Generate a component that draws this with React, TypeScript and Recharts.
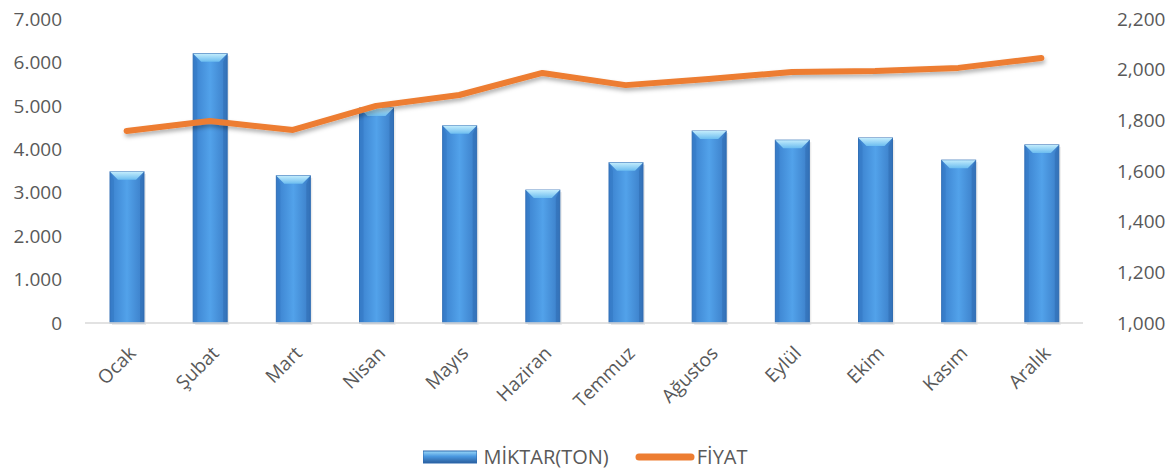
import React from 'react';
import { ComposedChart, Bar, Line, XAxis, YAxis } from 'recharts';

const months = ['Ocak', 'Şubat', 'Mart', 'Nisan', 'Mayıs', 'Haziran', 'Temmuz', 'Ağustos', 'Eylül', 'Ekim', 'Kasım', 'Aralık'];
const miktar = [3480, 6200, 3390, 4950, 4540, 3060, 3690, 4420, 4210, 4260, 3750, 4100];
const fiyat = [1758, 1797, 1762, 1857, 1900, 1987, 1939, 1963, 1991, 1995, 2007, 2046];
const leftTicks = [0, 1000, 2000, 3000, 4000, 5000, 6000, 7000];
const rightTicks = [1000, 1200, 1400, 1600, 1800, 2000, 2200];

const data = months.map((m, i) => ({ name: m, miktar: miktar[i], fiyat: fiyat[i] }));

const FONT = '"Open Sans", sans-serif';
const GRAY = '#595959';

const fmtLeft = (v: number) => (v === 0 ? '0' : v.toLocaleString('de-DE'));
const fmtRight = (v: number) => v.toLocaleString('en-US');

function BevelBar(props: any) {
  const { x, y, width, height, index } = props;
  if (!height || height <= 0) return null;
  const b = 8;
  const bodyId = `bb-${index}`;
  const topId = `bt-${index}`;
  return (
    <g>
      <defs>
        <linearGradient id={bodyId} x1="0" y1="0" x2="1" y2="0">
          <stop offset="0" stopColor="#3a80cd" />
          <stop offset="0.5" stopColor="#52a2ea" />
          <stop offset="1" stopColor="#3a7cc6" />
        </linearGradient>
        <linearGradient id={topId} x1="0" y1="0" x2="0" y2="1">
          <stop offset="0" stopColor="#c2ecfc" />
          <stop offset="1" stopColor="#6cbdf0" />
        </linearGradient>
      </defs>
      <rect x={x + 2} y={y + 2} width={width} height={height} fill="#000" opacity={0.08} />
      <rect x={x} y={y} width={width} height={height} fill={`url(#${bodyId})`} stroke="#3470b5" strokeWidth={1} />
      <polygon
        points={`${x},${y} ${x + width},${y} ${x + width - b},${y + b} ${x + b},${y + b}`}
        fill={`url(#${topId})`}
      />
      <polygon
        points={`${x},${y} ${x + b * 0.5},${y + b} ${x + b * 0.5},${y + height} ${x},${y + height}`}
        fill="#2f72bd"
        opacity={0.4}
      />
      <polygon
        points={`${x + width},${y} ${x + width - b * 0.5},${y + b} ${x + width - b * 0.5},${y + height} ${x + width},${y + height}`}
        fill="#2a64a8"
        opacity={0.4}
      />
    </g>
  );
}

function XTick(props: any) {
  const { x, y, payload } = props;
  const tx = x + 1;
  const ty = y + 14;
  return (
    <text
      x={tx}
      y={ty}
      textAnchor="end"
      fill={GRAY}
      fontSize={19}
      fontFamily={FONT}
      transform={`rotate(-45 ${tx} ${ty})`}
      dy="0.7em"
    >
      {payload.value}
    </text>
  );
}

function LegendBox() {
  return (
    <div
      style={{
        position: 'absolute',
        left: 0,
        top: 443,
        width: 1171,
        display: 'flex',
        justifyContent: 'center',
        alignItems: 'center',
        fontFamily: FONT,
        fontSize: 20,
        color: GRAY,
      }}
    >
      <svg width={54} height={14} style={{ marginRight: 6 }}>
        <defs>
          <linearGradient id="legBar" x1="0" y1="0" x2="0" y2="1">
            <stop offset="0" stopColor="#9ad8f8" />
            <stop offset="0.45" stopColor="#4a98e0" />
            <stop offset="1" stopColor="#2a5f9e" />
          </linearGradient>
        </defs>
        <rect x={0} y={1} width={54} height={12} fill="url(#legBar)" stroke="#2d68ad" />
      </svg>
      <span style={{ marginRight: 26 }}>MİKTAR(TON)</span>
      <svg width={60} height={10} style={{ marginRight: 2 }}>
        <line x1={4} y1={5} x2={56} y2={5} stroke="#ED7D31" strokeWidth={7} strokeLinecap="round" />
      </svg>
      <span>FİYAT</span>
    </div>
  );
}

export default function App() {
  return (
    <div style={{ position: 'absolute', left: 0, top: 0, width: 1171, height: 471, background: '#fff' }}>
      <ComposedChart
        width={1171}
        height={471}
        data={data}
        margin={{ top: 19, right: 0, left: 0, bottom: 48 }}
      >
        <defs>
          <filter id="lineShadow" x="-5%" y="-50%" width="110%" height="200%">
            <feDropShadow dx="1" dy="3" stdDeviation="2" floodColor="#000" floodOpacity="0.3" />
          </filter>
        </defs>
        <XAxis
          dataKey="name"
          interval={0}
          tickLine={false}
          axisLine={{ stroke: '#d9d9d9', strokeWidth: 1.5 }}
          tick={<XTick />}
          height={100}
        />
        <YAxis
          yAxisId="left"
          orientation="left"
          domain={[0, 7000]}
          ticks={leftTicks}
          tickFormatter={fmtLeft}
          axisLine={false}
          tickLine={false}
          width={85}
          tick={{ fill: GRAY, fontSize: 19, fontFamily: FONT, dx: -15 }}
        />
        <YAxis
          yAxisId="right"
          orientation="right"
          domain={[1000, 2200]}
          ticks={rightTicks}
          tickFormatter={fmtRight}
          axisLine={false}
          tickLine={false}
          width={88}
          tick={{ fill: GRAY, fontSize: 19, fontFamily: FONT, dx: 26 }}
        />
        <Bar yAxisId="left" dataKey="miktar" barSize={34} shape={<BevelBar />} isAnimationActive={false} />
        <Line
          yAxisId="right"
          dataKey="fiyat"
          stroke="#ED7D31"
          strokeWidth={6}
          strokeLinecap="round"
          strokeLinejoin="round"
          dot={false}
          activeDot={false}
          filter="url(#lineShadow)"
          isAnimationActive={false}
        />
      </ComposedChart>
      <LegendBox />
    </div>
  );
}
